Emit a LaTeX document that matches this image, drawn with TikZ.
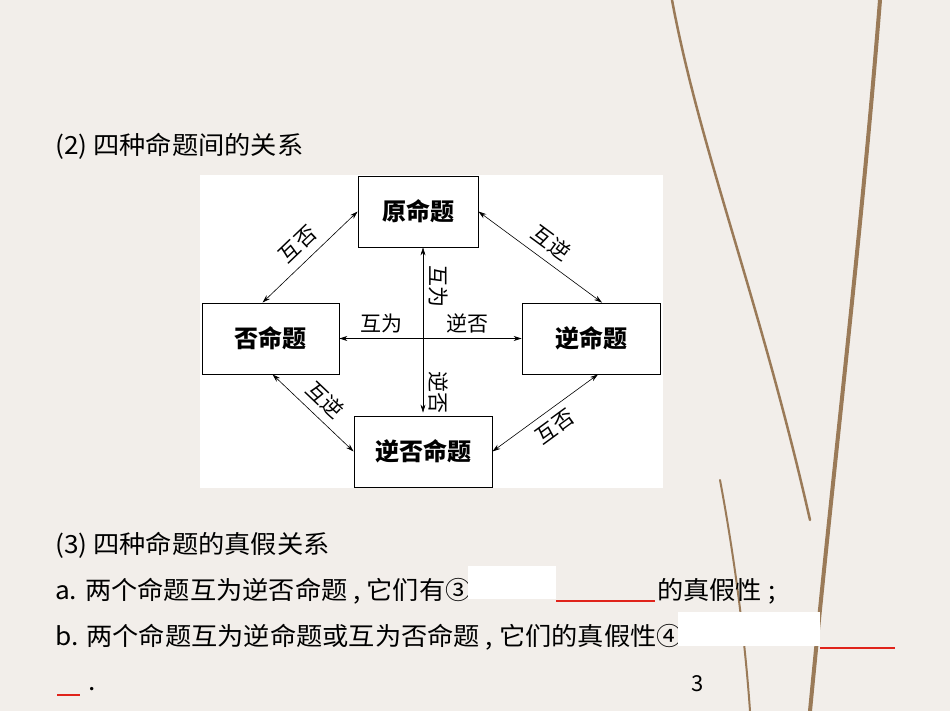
\documentclass[tikz,border=0pt]{standalone}
\usepackage{fontspec}
\setmainfont{Noto Sans CJK SC}
\newfontfamily\slidefont[FakeStretch=1.05]{Noto Sans CJK SC}
\usetikzlibrary{arrows.meta,positioning,calc}

\definecolor{paper}{HTML}{F2EEEA}
\definecolor{twig}{HTML}{9A7A58}
\definecolor{blankred}{HTML}{E0231B}

\begin{document}
\begin{tikzpicture}[
  x=1pt, y=-1pt,
  box/.style={rectangle, draw, thick, fill=white, minimum height=71pt, align=center, font=\fontsize{24}{28}\selectfont\bfseries},
  rel/.style={font=\fontsize{21}{24}\selectfont, inner sep=1pt},
  arrow/.style={<->, >={Stealth[length=8pt,width=5pt]}, semithick},
  line/.style={font=\slidefont\fontsize{25}{28}\selectfont, anchor=west, inner sep=0pt}
]
\useasboundingbox (0,0) rectangle (950,711);
\fill[paper] (0,0) rectangle (950,711);

% twig decoration
\draw[twig, line width=4pt, line cap=round] (880,0) .. controls (860,250) and (835,450) .. (810,711);
\draw[twig, line width=2.5pt, line cap=round] (672,0) .. controls (700,150) and (760,300) .. (810,520);
\draw[twig, line width=2pt, line cap=round] (720,480) .. controls (735,560) and (745,640) .. (750,711);

% diagram area
\fill[white] (200,175) rectangle (663,488);

\node[box, minimum width=120pt] (yuan) at (418,211.5) {原命题};
\node[box, minimum width=137pt] (fou) at (270.5,338.5) {否命题};
\node[box, minimum width=138pt] (ni) at (591,338.5) {逆命题};
\node[box, minimum width=138pt] (nifou) at (423,451.5) {逆否命题};

\draw[arrow] (yuan.west) -- node[rel, above=7pt, sloped] {互否} ([xshift=-8pt]fou.north);
\draw[arrow] (yuan.east) -- node[rel, above=7pt, sloped] {互逆} ([xshift=11pt]ni.north);
\draw[arrow] ([xshift=2pt]fou.south) -- node[rel, above=7pt, sloped] {互逆} (nifou.west);
\draw[arrow] ([xshift=7pt]ni.south) -- node[rel, below=7pt, sloped] {互否} (nifou.east);
\draw[arrow] ([xshift=5pt]yuan.south) -- ([yshift=3pt]nifou.north);
\draw[arrow] (fou.east) -- (ni.west);

\node[rel, rotate=-90] (v1) at (439,287) {互为};
\node[rel, rotate=-90] (v2) at (439,392) {逆否};
\node[rel] (h1) at (381,323) {互为};
\node[rel] (h2) at (467,323) {逆否};

% slide text
\node[line] (t2) at (55,146) {(2) 四种命题间的关系};
\node[line] (t3) at (55,545) {(3) 四种命题的真假关系};
\node[line] (ta) at (55,591) {a. 两个命题互为逆否命题 , 它们有③};
\node[line] (ta2) at (657,591) {的真假性 ;};
\node[line] (tb) at (55,637) {b. 两个命题互为逆命题或互为否命题 , 它们的真假性④};
\node[line] (tc) at (88,689) {.};
\node[font=\fontsize{22}{26}\selectfont] (pg) at (698,684) {3};

\fill[white] (468,566) rectangle (556,599);
\draw[blankred, line width=1.5pt] (556,601) -- (655,601);
\fill[white] (678,612) rectangle (820,646);
\draw[blankred, line width=1.5pt] (820,648) -- (895,648);
\draw[blankred, line width=1.5pt] (57,695) -- (80,695);
\end{tikzpicture}
\end{document}
